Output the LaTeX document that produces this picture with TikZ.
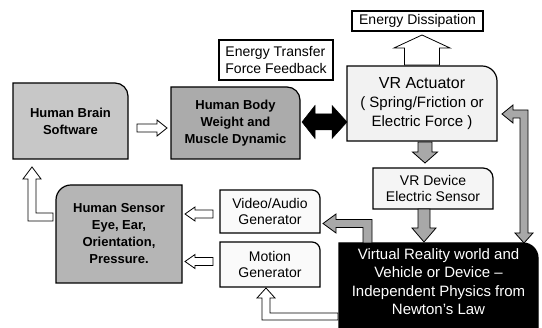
\documentclass[tikz,border=0pt]{standalone}
\usepackage{fontspec}
\setmainfont{Liberation Sans}
\usetikzlibrary{calc,backgrounds}
\definecolor{braingray}{gray}{0.78}
\definecolor{bodygray}{gray}{0.67}
\definecolor{sensgray}{gray}{0.71}
\definecolor{arrgray}{gray}{0.66}
\definecolor{actfill}{gray}{0.95}
\definecolor{devfill}{gray}{0.96}
\definecolor{genfill}{gray}{0.98}
\begin{document}
\begin{tikzpicture}[x=1pt,y=-1pt,
  boxgeom/.style={inner sep=0pt, outer sep=0pt, align=center},
  txt/.style={font=\fontsize{14}{16.5}\selectfont},
  boldtxt/.style={font=\fontsize{13}{17}\selectfont\bfseries},
  bigtxt/.style={font=\fontsize{15}{19}\selectfont},
  vrtxt/.style={font=\fontsize{15}{18.5}\selectfont, text=white},
  outl/.style={draw=black, line width=1.2pt},
  hollow/.style={draw=black, line width=0.8pt, fill=white, line join=miter},
  grayarr/.style={draw=black, line width=0.8pt, fill=arrgray, line join=miter},
  blackarr/.style={draw=black, fill=black, line width=0.5pt, line join=miter},
]
\useasboundingbox (0,0) rectangle (542,328);

% boxes (text + geometry)
\node[boxgeom, txt, minimum width=131pt, minimum height=20pt, outl, fill=white] (dis) at (417.5,21) {Energy Dissipation};
\node[boxgeom, txt, align=left, minimum width=114pt, minimum height=40pt, outl, fill=white] (etf) at (276,60) {Energy Transfer\\Force Feedback};
\node[boxgeom, boldtxt, minimum width=115pt, minimum height=76pt] (brain) at (70.5,121) {Human Brain\\Software};
\node[boxgeom, boldtxt, minimum width=129pt, minimum height=72pt] (body) at (235.5,123) {Human Body\\Weight and\\Muscle Dynamic};
\node[boxgeom, bigtxt, minimum width=150pt, minimum height=75pt] (act) at (422,103.5) {{\fontsize{16}{19}\selectfont VR Actuator}\\( Spring/Friction or\\Electric Force )};
\node[boxgeom, txt, minimum width=120pt, minimum height=41pt] (sens) at (433,188.5) {VR Device\\Electric Sensor};
\node[boxgeom, vrtxt, minimum width=199pt, minimum height=77pt] (vr) at (438.5,281.5) {Virtual Reality world and\\Vehicle or Device --\\Independent Physics from\\Newton's Law};
\node[boxgeom, txt, minimum width=100pt, minimum height=43pt] (va) at (270,211.5) {Video/Audio\\Generator};
\node[boxgeom, txt, minimum width=100pt, minimum height=45pt] (mot) at (270,264.5) {Motion\\Generator};
\node[boxgeom, boldtxt, minimum width=126pt, minimum height=98pt] (hs) at (119,234) {Human Sensor\\Eye, Ear,\\Orientation,\\Pressure.};

\begin{scope}[on background layer]
  \fill[white] (0,0) rectangle (542,328);
  \filldraw[outl, fill=braingray] (brain.south west) -- (brain.north west) -- ([xshift=-13pt]brain.north east) arc[start angle=90, end angle=0, radius=13pt] -- (brain.south east) -- cycle;
  \filldraw[outl, fill=bodygray] (body.south west) -- (body.north west) -- ([xshift=-13pt]body.north east) arc[start angle=90, end angle=0, radius=13pt] -- (body.south east) -- cycle;
  \filldraw[outl, fill=actfill] (act.south west) -- (act.north west) -- ([xshift=-15pt]act.north east) arc[start angle=90, end angle=0, radius=15pt] -- (act.south east) -- cycle;
  \filldraw[outl, fill=devfill] (sens.south west) -- (sens.north west) -- ([xshift=-10pt]sens.north east) arc[start angle=90, end angle=0, radius=10pt] -- (sens.south east) -- cycle;
  \filldraw[outl, fill=black] ([yshift=-12pt]vr.south west) -- (vr.north west) -- ([xshift=-15pt]vr.north east) arc[start angle=90, end angle=0, radius=15pt] -- ([yshift=-12pt]vr.south east) -- cycle;
  \filldraw[outl, fill=genfill] (va.south west) -- (va.north west) -- ([xshift=-8pt]va.north east) arc[start angle=90, end angle=0, radius=8pt] -- (va.south east) -- cycle;
  \filldraw[outl, fill=genfill] (mot.south west) -- (mot.north west) -- ([xshift=-8pt]mot.north east) arc[start angle=90, end angle=0, radius=8pt] -- (mot.south east) -- cycle;
  \filldraw[outl, fill=sensgray] (hs.south east) -- (hs.north east) -- ([xshift=15pt]hs.north west) arc[start angle=90, end angle=180, radius=15pt] -- (hs.south west) -- cycle;
\end{scope}

% connector anchor points
\coordinate (a1) at ($(act.north)+(0,-1)$);
\coordinate (a2) at ($(brain.east)+(9,7)$);
\coordinate (a3) at ($(body.east)+(2,-1)$);
\coordinate (a4) at ($(act.south)+(3,1)$);
\coordinate (a5) at ($(act.east)+(5,10.5)$);
\coordinate (a6) at ($(sens.south)+(-9,0)$);
\coordinate (a7) at ($(va.east)+(3,12)$);
\coordinate (a8) at ($(vr.west)+(-1,31.5)$);
\coordinate (a9) at ($(va.west)+(-7,2.5)$);
\coordinate (a10) at ($(mot.west)+(-7,-3)$);
\coordinate (a11) at ($(hs.west)+(-3,-21)$);

% actuator -> energy dissipation
\draw[hollow] (a1) ++(-17.5,0) -- ++(0,-17) -- ++(-10.5,0) -- ++(28,-13) -- ++(28,13) -- ++(-10.5,0) -- ++(0,17) -- cycle;
% brain -> body
\draw[hollow] (a2) ++(0,-4) -- ++(20,0) -- ++(0,-4) -- ++(10,8) -- ++(-10,8) -- ++(0,-4) -- ++(-20,0) -- cycle;
% body <-> actuator
\draw[blackarr] (a3) -- ++(13,-16.5) -- ++(0,8.5) -- ++(17,0) -- ++(0,-8.5) -- ++(15,16.5) -- ++(-15,16.5) -- ++(0,-8.5) -- ++(-17,0) -- ++(0,8.5) -- cycle;
% actuator -> device sensor
\draw[grayarr] (a4) ++(-7,0) -- ++(0,10) -- ++(-5.5,0) -- ++(12.5,11) -- ++(12.5,-11) -- ++(-5.5,0) -- ++(0,-10) -- cycle;
% actuator <-> VR world
\draw[grayarr] (a5) -- ++(11,-9) -- ++(0,5) -- ++(15,0) -- ++(0,123) -- ++(5,0) -- ++(-9,10) -- ++(-9,-10) -- ++(5,0) -- ++(0,-115) -- ++(-7,0) -- ++(0,5) -- cycle;
% device sensor -> VR world
\draw[grayarr] (a6) ++(-6,0) -- ++(0,19) -- ++(-6,0) -- ++(12,14) -- ++(12,-14) -- ++(-6,0) -- ++(0,-19) -- cycle;
% VR world -> video/audio
\draw[grayarr] (a7) -- ++(13,-9.5) -- ++(0,5.5) -- ++(36,0) -- ++(0,23.5) -- ++(-9,0) -- ++(0,-15.5) -- ++(-27,0) -- ++(0,5.5) -- cycle;
% VR world -> motion
\draw[hollow] (a8) -- ++(0,7) -- ++(-76,0) -- ++(0,-22) -- ++(-5,0) -- ++(9,-10) -- ++(9,10) -- ++(-5,0) -- ++(0,15) -- cycle;
% video/audio -> human sensor
\draw[hollow] (a9) ++(0,-4) -- ++(-18,0) -- ++(0,-3) -- ++(-10,7) -- ++(10,7) -- ++(0,-3) -- ++(18,0) -- cycle;
% motion -> human sensor
\draw[hollow] (a10) ++(0,-4) -- ++(-18,0) -- ++(0,-3) -- ++(-10,7) -- ++(10,7) -- ++(0,-3) -- ++(18,0) -- cycle;
% human sensor -> brain
\draw[hollow] (a11) -- ++(0,8) -- ++(-25,0) -- ++(0,-42) -- ++(-5,0) -- ++(9,-12) -- ++(9,12) -- ++(-5,0) -- ++(0,34) -- cycle;
\end{tikzpicture}
\end{document}
